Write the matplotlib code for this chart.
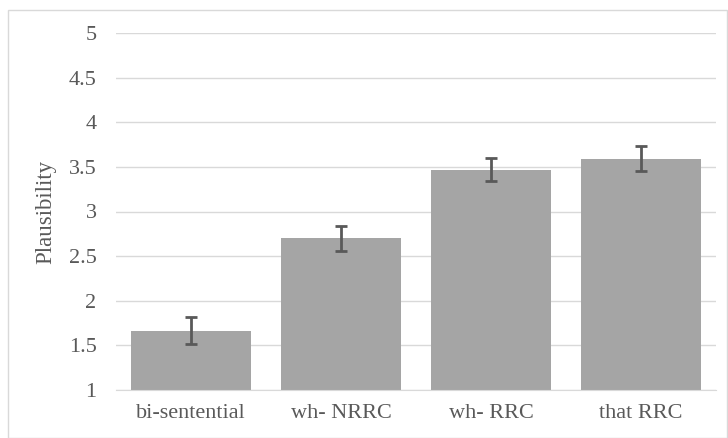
import matplotlib.pyplot as plt
from matplotlib.patches import Rectangle

# mean plausibility ratings with error bars
conditions = ["bi-sentential", "wh- NRRC", "wh- RRC", "that RRC"]
means = [1.665, 2.70, 3.47, 3.59]
errors = [0.155, 0.14, 0.13, 0.14]
yticks = [1, 1.5, 2, 2.5, 3, 3.5, 4, 4.5, 5]
ytick_labels = ["1", "1.5", "2", "2.5", "3", "3.5", "4", "4.5", "5"]

plt.rcParams['font.family'] = ['Liberation Serif', 'DejaVu Serif']
txt = '#595959'

fig = plt.figure(figsize=(7.28, 4.38), dpi=100)
fig.patches.append(Rectangle((8/728, 0), 719/728, 1 - 10/438, transform=fig.transFigure,
                             fill=False, edgecolor='#d9d9d9', linewidth=1))
ax = fig.add_axes([116/728, 48/438, 600/728, 357/438])

x = range(len(conditions))
ax.bar(x, [m - 1 for m in means], bottom=1, width=0.8, color='#a5a5a5', zorder=2)
ax.errorbar(x, means, yerr=errors, fmt='none', ecolor='#595959', elinewidth=2,
            capsize=4, capthick=2, zorder=3)

ax.set_xlim(-0.5, 3.5)
ax.set_ylim(1, 5)
ax.set_yticks(yticks)
ax.set_yticklabels(ytick_labels)
ax.set_xticks(list(x))
ax.set_xticklabels(conditions)
ax.yaxis.grid(True, color='#d9d9d9', linewidth=1, zorder=0)
for s in ['top', 'right', 'left']:
    ax.spines[s].set_visible(False)
ax.spines['bottom'].set_color('#d9d9d9')
ax.tick_params(axis='both', length=0, labelsize=16, colors=txt)
ax.tick_params(axis='y', pad=14)
ax.tick_params(axis='x', pad=10)
ax.set_ylabel("Plausibility", fontsize=16.5, color=txt)
ax.yaxis.set_label_coords(-0.1, 0.5)

fig.savefig("out.png", dpi=100)
